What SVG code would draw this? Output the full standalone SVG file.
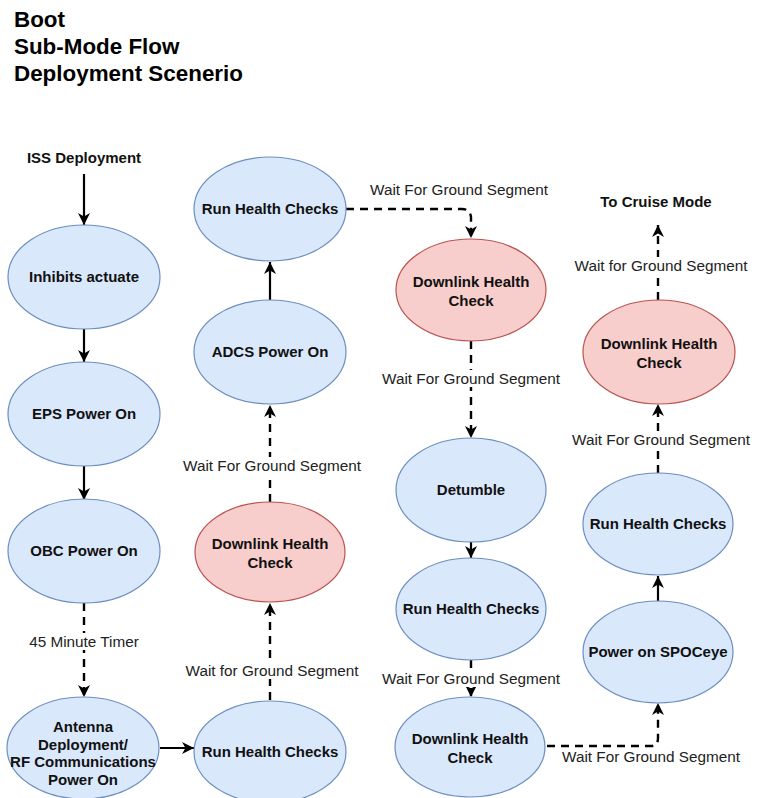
<svg xmlns="http://www.w3.org/2000/svg" width="760" height="798" viewBox="0 0 760 798">
<defs>
<marker id="arr" markerUnits="userSpaceOnUse" markerWidth="14" markerHeight="14" refX="12" refY="6" orient="auto" viewBox="0 0 14 12">
<path d="M0,0 L12,6 L0,12 L3.5,6 Z" fill="#000"/>
</marker>
<style>
.blue{fill:#dae8fc;stroke:#6c8ebf;stroke-width:1.2}
.red{fill:#f8cecc;stroke:#b85450;stroke-width:1.2}
.t{font-family:"Liberation Sans",Arial,sans-serif;font-weight:bold;font-size:15px;fill:#111;text-anchor:middle}
.lbl{font-family:"Liberation Sans",Arial,sans-serif;font-size:15.3px;fill:#222;text-anchor:middle}
.title{font-family:"Liberation Sans",Arial,sans-serif;font-weight:bold;font-size:22.4px;fill:#000}
.solid{fill:none;stroke:#000;stroke-width:2.2;marker-end:url(#arr)}
.dash{fill:none;stroke:#000;stroke-width:2.4;stroke-dasharray:8 6;marker-end:url(#arr)}
.bg{fill:#fff}
</style>
</defs>
<rect width="760" height="798" fill="#fff"/>
<g id="title">
<text class="title" x="14" y="27">Boot</text>
<text class="title" x="14" y="54">Sub-Mode Flow</text>
<text class="title" x="14" y="81">Deployment Scenerio</text>
</g>
<g id="connectors">
<path class="solid" d="M84,174 V225"/>
<path class="solid" d="M84,329 V362"/>
<path class="solid" d="M84,466 V500"/>
<path class="dash" d="M84,603 V697"/>
<path class="solid" d="M160,748 H194"/>
<path class="dash" d="M270,700 V603"/>
<path class="dash" d="M270,502 V405"/>
<path class="solid" d="M270,300 V262"/>
<path class="dash" d="M346,209 H462 Q470,209 471,217 V238"/>
<path class="dash" d="M471,341 V438"/>
<path class="solid" d="M471,541 V558"/>
<path class="dash" d="M471,660 V697"/>
<path class="dash" d="M547,746 H651 Q658,746 658,738 V703"/>
<path class="solid" d="M658,601 V576"/>
<path class="dash" d="M658,473 V404"/>
<path class="dash" d="M658,300 V225"/>
<rect class="bg" x="24" y="633" width="120" height="17"/>
<rect class="bg" x="180" y="457" width="184" height="17"/>
<rect class="bg" x="182" y="662" width="180" height="17"/>
<rect class="bg" x="379" y="370" width="184" height="17"/>
<rect class="bg" x="379" y="670" width="184" height="17"/>
<rect class="bg" x="571" y="257" width="180" height="17"/>
<rect class="bg" x="569" y="431" width="184" height="17"/>
<text class="lbl" x="84" y="647">45 Minute Timer</text>
<text class="lbl" x="272" y="471">Wait For Ground Segment</text>
<text class="lbl" x="272" y="676">Wait for Ground Segment</text>
<text class="lbl" x="459" y="195">Wait For Ground Segment</text>
<text class="lbl" x="471" y="384">Wait For Ground Segment</text>
<text class="lbl" x="471" y="684">Wait For Ground Segment</text>
<text class="lbl" x="661" y="271">Wait for Ground Segment</text>
<text class="lbl" x="661" y="445">Wait For Ground Segment</text>
<text class="lbl" x="651" y="762">Wait For Ground Segment</text>
</g>
<g id="iss"><text class="t" x="84" y="163">ISS Deployment</text></g>
<g id="cruise"><text class="t" x="656" y="207">To Cruise Mode</text></g>
<g id="inhibits"><ellipse class="blue" cx="84" cy="277" rx="76" ry="52"/><text class="t" x="84" y="282">Inhibits actuate</text></g>
<g id="eps"><ellipse class="blue" cx="84" cy="414" rx="76" ry="52"/><text class="t" x="84" y="419">EPS Power On</text></g>
<g id="obc"><ellipse class="blue" cx="84" cy="551" rx="76" ry="52"/><text class="t" x="84" y="556">OBC Power On</text></g>
<g id="antenna"><ellipse class="blue" cx="83" cy="748" rx="76" ry="51"/>
<text class="t" x="83" y="732">Antenna</text><text class="t" x="83" y="750">Deployment/</text><text class="t" x="83" y="767">RF Communications</text><text class="t" x="83" y="785">Power On</text></g>
<g id="rhc1"><ellipse class="blue" cx="270" cy="752" rx="76" ry="51"/><text class="t" x="270" y="757">Run Health Checks</text></g>
<g id="dhc1"><ellipse class="red" cx="270" cy="552" rx="75" ry="50"/><text class="t" x="270" y="549">Downlink Health</text><text class="t" x="270" y="568">Check</text></g>
<g id="adcs"><ellipse class="blue" cx="270" cy="352" rx="76" ry="52"/><text class="t" x="270" y="357">ADCS Power On</text></g>
<g id="rhc2"><ellipse class="blue" cx="270" cy="209" rx="76" ry="52"/><text class="t" x="270" y="214">Run Health Checks</text></g>
<g id="dhc2"><ellipse class="red" cx="471" cy="290" rx="75" ry="51"/><text class="t" x="471" y="287">Downlink Health</text><text class="t" x="471" y="306">Check</text></g>
<g id="detumble"><ellipse class="blue" cx="471" cy="490" rx="75" ry="52"/><text class="t" x="471" y="495">Detumble</text></g>
<g id="rhc3"><ellipse class="blue" cx="471" cy="609" rx="75" ry="51"/><text class="t" x="471" y="614">Run Health Checks</text></g>
<g id="dhc3"><ellipse class="blue" cx="470" cy="747" rx="75" ry="50"/><text class="t" x="470" y="744">Downlink Health</text><text class="t" x="470" y="763">Check</text></g>
<g id="spoc"><ellipse class="blue" cx="658" cy="652" rx="75" ry="51"/><text class="t" x="658" y="657">Power on SPOCeye</text></g>
<g id="rhc4"><ellipse class="blue" cx="658" cy="524" rx="75" ry="51"/><text class="t" x="658" y="529">Run Health Checks</text></g>
<g id="dhc4"><ellipse class="red" cx="659" cy="352" rx="76" ry="52"/><text class="t" x="659" y="349">Downlink Health</text><text class="t" x="659" y="368">Check</text></g>
</svg>
